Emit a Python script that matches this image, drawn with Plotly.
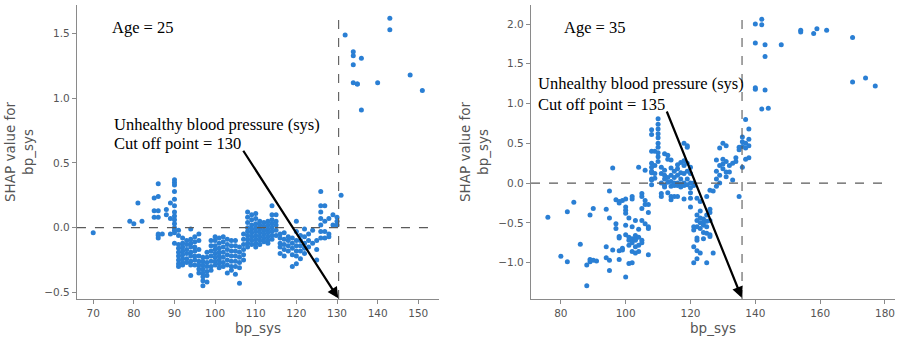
import plotly.graph_objects as go

# ---------------- data: Age = 25 panel ----------------
bp25 = [70, 79, 80, 81, 82, 85, 86, 87, 88, 89, 90, 91, 92, 93, 94, 95, 96, 97, 98, 99,
        100, 101, 102, 103, 104, 105, 106, 107, 108, 109, 110, 111, 112, 113, 114, 115,
        116, 117, 118, 119, 120, 121, 122, 123, 124, 125, 126, 127, 128, 129, 130, 131,
        132, 134, 135, 136, 140, 143, 148, 151]
shap25 = [
    [-0.04], [0.05], [0.03], [0.19], [0.05],
    [0.23, 0.13, 0.08],
    [0.34, 0.24, 0.13, 0.08, -0.05, -0.06, -0.08],
    [-0.05],
    [0.14, 0.10],
    [0.19, 0.07, -0.05],
    [0.37, 0.35, 0.33, 0.28, 0.22, 0.17, 0.12, 0.09, 0.06, 0.03, 0.0, -0.02, -0.04, -0.12],
    [-0.02, -0.06, -0.13, -0.16, -0.19, -0.22, -0.25, -0.28, -0.30],
    [-0.08, -0.12, -0.15, -0.18, -0.21, -0.24, -0.27, -0.29],
    [-0.10, -0.13, -0.17, -0.20, -0.24, -0.27],
    [-0.01, -0.09, -0.12, -0.15, -0.19, -0.22, -0.26, -0.29, -0.37],
    [-0.07, -0.11, -0.15, -0.18, -0.22, -0.25, -0.29],
    [-0.05, -0.10, -0.17, -0.22, -0.26, -0.29, -0.32, -0.35],
    [-0.23, -0.26, -0.29, -0.32, -0.35, -0.38, -0.41, -0.45],
    [-0.19, -0.23, -0.27, -0.30, -0.34, -0.37, -0.42],
    [-0.10, -0.14, -0.18, -0.22, -0.26, -0.30, -0.33],
    [-0.07, -0.10, -0.14, -0.17, -0.20, -0.23, -0.26, -0.29],
    [-0.08, -0.12, -0.16, -0.19, -0.22, -0.25, -0.28, -0.31],
    [-0.07, -0.11, -0.15, -0.19, -0.23, -0.27, -0.30],
    [-0.09, -0.13, -0.17, -0.21, -0.25, -0.29, -0.35],
    [-0.10, -0.14, -0.18, -0.22, -0.26, -0.30, -0.33],
    [-0.10, -0.14, -0.18, -0.22, -0.26, -0.30, -0.36],
    [-0.15, -0.19, -0.23, -0.27, -0.31, -0.43],
    [-0.05, -0.09, -0.13, -0.17, -0.21, -0.25],
    [0.12, 0.08, 0.04, 0.0, -0.03, -0.06, -0.09, -0.12, -0.15],
    [0.10, 0.06, 0.02, -0.01, -0.04, -0.07, -0.10, -0.13],
    [0.11, 0.07, 0.03, 0.0, -0.03, -0.06, -0.09, -0.12, -0.15],
    [0.05, 0.02, -0.01, -0.04, -0.07, -0.10, -0.13],
    [0.04, 0.01, -0.02, -0.05, -0.08, -0.11],
    [0.05, 0.02, -0.01, -0.04, -0.07, -0.10, -0.12],
    [0.17, 0.10, 0.06, 0.03, 0.0, -0.03, -0.06, -0.09],
    [0.10, 0.05, 0.02, -0.02, -0.06],
    [-0.05, -0.08, -0.12, -0.15, -0.20],
    [-0.04, -0.09, -0.13, -0.17, -0.22],
    [-0.07, -0.10, -0.14, -0.18],
    [-0.08, -0.12, -0.16, -0.21, -0.30],
    [0.05, -0.03, -0.10, -0.14, -0.18, -0.22, -0.28],
    [-0.06, -0.10, -0.14, -0.18, -0.24],
    [-0.01, -0.07, -0.12, -0.16, -0.20],
    [-0.05, -0.10, -0.15],
    [-0.02, -0.12],
    [-0.10, -0.17, -0.25],
    [0.28, 0.17, 0.12, 0.07, 0.02, -0.03, -0.08],
    [0.17, 0.05, -0.03, -0.08],
    [0.07, -0.05, -0.07],
    [0.10, 0.02],
    [0.08, 0.05, 0.02],
    [0.25],
    [1.49],
    [1.36, 1.33, 1.26, 1.12],
    [1.11, 1.11],
    [1.31, 0.91],
    [1.12],
    [1.62, 1.53],
    [1.18],
    [1.06],
]

# ---------------- data: Age = 35 panel ----------------
bp35 = [76, 80, 82, 84, 86, 88, 89, 90, 91, 94, 95, 96, 97, 98, 99, 100, 101, 102, 103,
        104, 105, 106, 107, 108, 109, 110, 111, 112, 113, 114, 115, 116, 117, 118, 119,
        120, 121, 122, 123, 124, 125, 126, 127, 128, 129, 130, 131, 132, 133, 134, 135,
        136, 137, 138, 140, 142, 143, 144, 148, 154, 158, 159, 162, 170, 174, 177]
shap35 = [
    [-0.43], [-0.92], [-0.36, -0.99], [-0.24], [-0.77],
    [-1.29, -1.03],
    [-0.40, -0.99, -0.96],
    [-0.32, -0.97],
    [-0.98],
    [-0.33, -0.80, -0.94],
    [-0.10, -0.44, -0.97, -1.10],
    [0.19, -0.84],
    [-0.21, -0.51, -0.57],
    [-0.23, -0.25, -0.67, -0.69, -0.85, -0.96],
    [-0.22, -0.82, -0.84],
    [-0.20, -0.30, -0.34, -0.38, -0.53, -0.65, -1.18],
    [-0.44, -0.68, -0.72, -0.78, -1.01],
    [-0.17, -0.20, -0.55, -0.70, -0.75, -0.86, -1.00],
    [-0.47, -0.66, -0.70, -0.72, -0.80, -0.88],
    [0.20, -0.58, -0.68, -0.78, -0.86],
    [-0.13, -0.17, -0.32, -0.47, -0.72, -0.75],
    [0.16, -0.22, -0.27, -0.51],
    [-0.27, -0.37, -0.55, -0.57, -0.90],
    [0.67, 0.61, 0.40, 0.25, 0.20, 0.15, 0.13, 0.05, 0.04, -0.02],
    [0.40, 0.22, 0.12, 0.06],
    [0.81, 0.74, 0.68, 0.62, 0.57, 0.50, 0.45, 0.38, 0.33, 0.27],
    [0.20, 0.12, 0.0, -0.13, -0.17],
    [0.37, 0.16, 0.10, 0.05, -0.03, -0.05],
    [0.35, 0.30, 0.07, 0.01, -0.12],
    [0.29, 0.19, 0.10, 0.02, -0.04, -0.17, -0.21],
    [0.15, 0.07, 0.0, -0.03, -0.17],
    [0.23, 0.18, 0.10, 0.0, -0.03, -0.17],
    [0.26, 0.13, 0.05, -0.01, -0.05],
    [0.50, 0.28, 0.22, 0.12, 0.0, -0.03, -0.20],
    [0.47, 0.45, 0.25, 0.15, 0.05, -0.02],
    [0.20, 0.12, 0.0, -0.06, -0.12, -0.19, -0.30],
    [0.0, -0.03, -0.55, -0.59, -0.80, -1.00],
    [-0.19, -0.40, -0.47, -0.55, -0.69, -0.72, -0.85, -0.95],
    [-0.23, -0.35, -0.44, -0.50, -0.57, -0.88],
    [-0.45, -0.50, -0.53, -0.62, -0.70],
    [-0.17, -0.40, -0.48, -0.55, -0.63, -1.00],
    [-0.09, -0.33, -0.37, -0.47, -0.65, -0.67],
    [-0.10, -0.88],
    [0.29, 0.15, 0.05, -0.04],
    [0.44, 0.22, 0.10, 0.0],
    [0.50, 0.30, 0.24, 0.18],
    [0.47, 0.27, 0.14, 0.08],
    [0.22, 0.14],
    [0.04, 0.25],
    [0.32, 0.27],
    [0.45, 0.42, -0.17],
    [0.58, 0.52, 0.46, 0.20],
    [0.80, 0.50, 0.44, 0.30],
    [0.68, 0.55, 0.47, 0.32],
    [2.00, 1.76, 1.20, 1.18],
    [2.06, 1.99, 0.93],
    [1.74, 1.59, 1.17],
    [0.94],
    [1.74],
    [1.92, 1.90],
    [1.88],
    [1.94],
    [1.92],
    [1.83, 1.27],
    [1.32],
    [1.22],
]

ages = ["Age = 25", "Age = 35"]
cutoffs = [130, 135]
cut_lines = [130.4, 135.9]
x_ticks_25 = [70, 80, 90, 100, 110, 120, 130, 140, 150]
y_ticks_25 = [-0.5, 0.0, 0.5, 1.0, 1.5]
x_ticks_35 = [80, 100, 120, 140, 160, 180]
y_ticks_35 = [-1.0, -0.5, 0.0, 0.5, 1.0, 1.5, 2.0]


def flatten(bps, shaps):
    xs, ys = [], []
    for b, vals in zip(bps, shaps):
        for v in vals:
            xs.append(b)
            ys.append(v)
    return xs, ys


x25, y25 = flatten(bp25, shap25)
x35, y35 = flatten(bp35, shap35)

DOT = "#2a7fd4"
GRAY = "#8a8a8a"
TXT = "#555555"
SERIF = "Liberation Serif, Times New Roman, serif"
SANS = "DejaVu Sans, sans-serif"

fig = go.Figure()
fig.add_trace(go.Scatter(x=x25, y=y25, mode="markers", xaxis="x", yaxis="y",
                         marker=dict(color=DOT, size=5, line=dict(width=0)), showlegend=False))
fig.add_trace(go.Scatter(x=x35, y=y35, mode="markers", xaxis="x2", yaxis="y2",
                         marker=dict(color=DOT, size=5, line=dict(width=0)), showlegend=False))

axis_common = dict(showgrid=False, zeroline=False, showline=True, linecolor=GRAY, linewidth=1.3,
                   ticks="outside", ticklen=4, tickwidth=1, tickcolor=GRAY,
                   tickfont=dict(family=SANS, size=10.5, color=TXT), mirror=False)

fig.update_layout(
    width=897, height=340,
    margin=dict(l=0, r=0, t=0, b=0),
    paper_bgcolor="white", plot_bgcolor="white",
    xaxis=dict(domain=[0.0858, 0.4894], range=[66.0, 155.1], tickvals=x_ticks_25,
               anchor="y", **axis_common),
    yaxis=dict(domain=[0.1206, 0.9853], range=[-0.552, 1.722], tickvals=y_ticks_25,
               tickformat=".1f", anchor="x", **axis_common),
    xaxis2=dict(domain=[0.592, 0.9978], range=[70.8, 183.1], tickvals=x_ticks_35,
                anchor="y2", **axis_common),
    yaxis2=dict(domain=[0.1206, 0.9853], range=[-1.457, 2.239], tickvals=y_ticks_35,
                tickformat=".1f", anchor="x2", **axis_common),
)

DASH = "#5a5a5a"
shapes = [
    dict(type="line", xref="x", yref="y", x0=66.0, x1=152.9, y0=0, y1=0,
         line=dict(color=DASH, width=1.1, dash="dash")),
    dict(type="line", xref="x", yref="y", x0=cut_lines[0], x1=cut_lines[0], y0=-0.552, y1=1.653,
         line=dict(color=DASH, width=1.1, dash="dash")),
    dict(type="line", xref="x2", yref="y2", x0=70.8, x1=180.0, y0=0, y1=0,
         line=dict(color=DASH, width=1.1, dash="dash")),
    dict(type="line", xref="x2", yref="y2", x0=cut_lines[1], x1=cut_lines[1], y0=-1.457, y1=2.125,
         line=dict(color=DASH, width=1.1, dash="dash")),
]
fig.update_layout(shapes=shapes)

ann = []
# text labels (serif)
ann.append(dict(xref="x", yref="y", x=74.1, y=1.55, text=ages[0], showarrow=False,
                xanchor="left", yanchor="middle", font=dict(family=SERIF, size=16.5, color="black")))
ann.append(dict(xref="x", yref="y", x=74.6, y=0.794, text="Unhealthy blood pressure (sys)",
                showarrow=False, xanchor="left", yanchor="middle",
                font=dict(family=SERIF, size=16.5, color="black")))
ann.append(dict(xref="x", yref="y", x=74.6, y=0.647, text=f"Cut off point = {cutoffs[0]}",
                showarrow=False, xanchor="left", yanchor="middle",
                font=dict(family=SERIF, size=16.5, color="black")))
ann.append(dict(xref="x2", yref="y2", x=80.4, y=1.962, text=ages[1], showarrow=False,
                xanchor="left", yanchor="middle", font=dict(family=SERIF, size=16.5, color="black")))
ann.append(dict(xref="x2", yref="y2", x=72.4, y=1.246, text="Unhealthy blood pressure (sys)",
                showarrow=False, xanchor="left", yanchor="middle",
                font=dict(family=SERIF, size=16.5, color="black")))
ann.append(dict(xref="x2", yref="y2", x=72.4, y=0.994, text=f"Cut off point = {cutoffs[1]}",
                showarrow=False, xanchor="left", yanchor="middle",
                font=dict(family=SERIF, size=16.5, color="black")))
# arrows
ann.append(dict(xref="x", yref="y", axref="x", ayref="y", x=130.3, y=-0.546, ax=106.7, ay=0.606,
                text="", showarrow=True, arrowhead=2, arrowsize=1, arrowwidth=2.2,
                arrowcolor="black"))
ann.append(dict(xref="x2", yref="y2", axref="x2", ayref="y2", x=135.8, y=-1.44, ax=112.5, ay=0.919,
                text="", showarrow=True, arrowhead=2, arrowsize=1, arrowwidth=2.2,
                arrowcolor="black"))
# axis titles
ann.append(dict(xref="paper", yref="paper", x=258 / 897, y=1 - 328 / 340, text="bp_sys",
                showarrow=False, xanchor="center", yanchor="middle",
                font=dict(family=SANS, size=13.5, color=TXT)))
ann.append(dict(xref="paper", yref="paper", x=713 / 897, y=1 - 328 / 340, text="bp_sys",
                showarrow=False, xanchor="center", yanchor="middle",
                font=dict(family=SANS, size=13.5, color=TXT)))
ann.append(dict(xref="paper", yref="paper", x=19 / 897, y=1 - 152 / 340,
                text="SHAP value for<br>bp_sys", textangle=-90, showarrow=False,
                xanchor="center", yanchor="middle", font=dict(family=SANS, size=13.5, color=TXT)))
ann.append(dict(xref="paper", yref="paper", x=474 / 897, y=1 - 152 / 340,
                text="SHAP value for<br>bp_sys", textangle=-90, showarrow=False,
                xanchor="center", yanchor="middle", font=dict(family=SANS, size=13.5, color=TXT)))
fig.update_layout(annotations=ann)

fig.write_html("out.html")
